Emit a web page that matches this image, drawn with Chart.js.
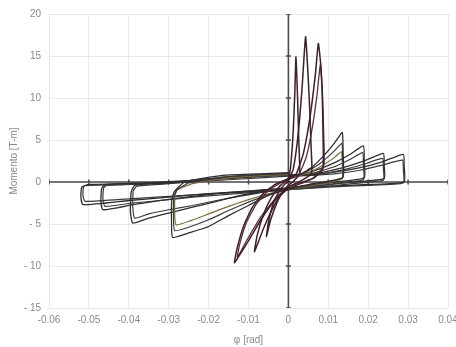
<!DOCTYPE html>
<html>
<head>
  <meta charset="UTF-8">
  <title>Momento - phi</title>
  <script src="https://cdn.jsdelivr.net/npm/chart.js"></script>
  <style>
    body {
      margin: 0;
      overflow: hidden;
      background: #fff;
    }
    #wrap {
      width: 480px;
      height: 347px;
    }
  </style>
</head>
<body>
  <div id="wrap"><canvas id="chart" width="480" height="347"></canvas></div>

  <script>
    // axis ticks
    const xTickValues = [-0.06, -0.05, -0.04, -0.03, -0.02, -0.01, 0, 0.01, 0.02, 0.03, 0.04];
    const xTickLabels = ['-0.06', '-0.05', '-0.04', '-0.03', '-0.02', '-0.01', '0', '0.01', '0.02', '0.03', '0.04'];
    const yTickValues = [-15, -10, -5, 0, 5, 10, 15, 20];
    const yTickLabels = ['- 15', '- 10', '- 5', '0', '5', '10', '15', '20'];

    // hysteresis cycles, phi [rad] and momento [T-m]
    const c1Phi = [0, 0.0006, 0.0012, 0.0016, 0.0019, 0.0023, 0.0026, 0.0028, 0.0015, 0, -0.0015, -0.003, -0.0045, -0.0055, -0.005, -0.0038, -0.0022, -0.0008, 0];
    const c1M   = [0, 2, 6, 10.5, 14.9, 10, 5, 1, 0.2, -0.4, -1.2, -2.6, -4.6, -6.5, -4.8, -2.6, -1, -0.2, 0];

    const c2Phi = [0, 0.0012, 0.0024, 0.0034, 0.0043, 0.0049, 0.0054, 0.0057, 0.0058, 0.003, 0, -0.002, -0.004, -0.0063, -0.0085, -0.0078, -0.0062, -0.0042, -0.002, 0];
    const c2M   = [0.2, 1.5, 5.5, 11, 17.3, 13, 8, 4, 1, 0.1, -0.6, -1.6, -3.2, -5.6, -8.3, -6.3, -3.8, -1.8, -0.4, 0.3];

    const c3Phi = [0, 0.002, 0.0038, 0.0055, 0.0068, 0.0075, 0.0081, 0.0085, 0.0087, 0.0086, 0.006, 0.003, 0, -0.003, -0.0065, -0.01, -0.0135, -0.0128, -0.0112, -0.009, -0.0062, -0.003, 0];
    const c3M   = [0.3, 1, 3.5, 8, 13, 16.5, 14, 10, 5, 1.5, 0.4, -0.2, -0.8, -2, -4.2, -7, -9.6, -7.8, -5.2, -3, -1.3, -0.2, 0.4];

    const c4Phi = [0, 0.0025, 0.0045, 0.006, 0.0072, 0.008, 0.0085, 0.0088, 0.0089, 0.0065, 0.003, 0, -0.003, -0.007, -0.0105, -0.0128, -0.0122, -0.0105, -0.008, -0.005, -0.002, 0];
    const c4M   = [0.3, 0.8, 3, 6.5, 10.5, 14, 11, 6.5, 2, 0.5, -0.1, -0.6, -1.8, -4.2, -7, -9, -7.4, -4.8, -2.6, -1, -0.1, 0.4];

    const c5Phi = [0, 0.003, 0.006, 0.009, 0.0115, 0.0135, 0.0137, 0.0137, 0.01, 0.005, 0, -0.005, -0.01, -0.015, -0.02, -0.0245, -0.029, -0.0293, -0.0292, -0.0285, -0.026, -0.0165, -0.006, 0];
    const c5M   = [0.6, 0.9, 1.8, 3.2, 4.6, 5.9, 3.5, 0.6, 0.1, -0.3, -0.8, -1.6, -2.8, -4.0, -5.3, -6.0, -6.6, -4.5, -2, -1.1, 0, 0.8, 1, 1.1];

    const c5bPhi = [0, 0.003, 0.006, 0.009, 0.0115, 0.0134, 0.0136, 0.0136, 0.01, 0.005, 0, -0.005, -0.01, -0.015, -0.02, -0.0245, -0.0285, -0.0288, -0.0287, -0.028, -0.025, -0.016, -0.006, 0];
    const c5bM   = [0.7, 0.9, 1.6, 2.6, 3.7, 4.6, 2.8, 0.5, 0, -0.4, -0.9, -1.5, -2.4, -3.4, -4.5, -5.3, -5.8, -4, -1.8, -1, -0.1, 0.6, 0.9, 1];

    const c5cPhi = [0, 0.003, 0.006, 0.009, 0.0115, 0.0133, 0.0135, 0.0135, 0.01, 0.005, 0, -0.005, -0.01, -0.015, -0.02, -0.0245, -0.0282, -0.0285, -0.0284, -0.0278, -0.024, -0.015, -0.006, 0];
    const c5cM   = [0.6, 0.8, 1.3, 2.1, 2.9, 3.6, 2.2, 0.4, -0.1, -0.5, -0.9, -1.4, -2.1, -2.9, -3.8, -4.6, -5.1, -3.5, -1.6, -0.9, -0.2, 0.5, 0.8, 0.9];

    const c6Phi = [0, 0.004, 0.008, 0.012, 0.0155, 0.0188, 0.019, 0.019, 0.012, 0.005, 0, -0.006, -0.012, -0.018, -0.024, -0.03, -0.035, -0.039, -0.0396, -0.0394, -0.0385, -0.03, -0.02, -0.01, 0];
    const c6M   = [0.8, 1, 1.6, 2.4, 3.3, 4.3, 2.5, 0.5, 0, -0.4, -0.7, -1.1, -1.6, -2.3, -3, -3.7, -4.3, -4.9, -3.5, -1.2, -0.4, -0.1, 0.4, 0.8, 1];

    const c6bPhi = [0, 0.004, 0.008, 0.012, 0.0155, 0.0186, 0.0188, 0.0188, 0.012, 0.005, 0, -0.006, -0.012, -0.018, -0.024, -0.03, -0.035, -0.0385, -0.039, -0.0389, -0.038, -0.03, -0.02, -0.01, 0];
    const c6bM   = [0.7, 0.8, 1.3, 1.9, 2.7, 3.5, 2, 0.3, -0.2, -0.6, -0.9, -1.2, -1.7, -2.2, -2.8, -3.3, -3.8, -4.3, -3, -1.1, -0.5, -0.2, 0.3, 0.7, 0.9];

    const c7Phi = [0, 0.005, 0.01, 0.015, 0.0195, 0.0238, 0.024, 0.024, 0.016, 0.008, 0, -0.008, -0.016, -0.024, -0.032, -0.039, -0.0465, -0.047, -0.0468, -0.046, -0.036, -0.024, -0.012, 0];
    const c7M   = [0.8, 0.9, 1.3, 1.9, 2.6, 3.4, 2, 0.4, 0, -0.4, -0.7, -1, -1.3, -1.7, -2.2, -2.7, -3.3, -2.3, -0.8, -0.3, -0.1, 0.2, 0.6, 1];

    const c7bPhi = [0, 0.005, 0.01, 0.015, 0.0195, 0.0236, 0.0238, 0.0238, 0.016, 0.008, 0, -0.008, -0.016, -0.024, -0.032, -0.039, -0.046, -0.0465, -0.0463, -0.0455, -0.036, -0.024, -0.012, 0];
    const c7bM   = [0.7, 0.8, 1.1, 1.6, 2.2, 2.8, 1.6, 0.2, -0.2, -0.6, -0.9, -1.2, -1.5, -1.8, -2.2, -2.5, -2.9, -2, -0.7, -0.4, -0.2, 0.1, 0.5, 0.8];

    const c8Phi = [0, 0.006, 0.012, 0.018, 0.0235, 0.0288, 0.029, 0.029, 0.02, 0.01, 0, -0.01, -0.02, -0.03, -0.04, -0.0515, -0.052, -0.0518, -0.05, -0.04, -0.028, -0.014, 0];
    const c8M   = [0.8, 0.9, 1.2, 1.7, 2.4, 3.3, 2, 0, -0.3, -0.5, -0.8, -1.1, -1.4, -1.8, -2.2, -2.7, -1.8, -0.6, -0.3, -0.2, 0, 0.5, 0.9];

    const c8bPhi = [0, 0.006, 0.012, 0.018, 0.0235, 0.0286, 0.0288, 0.0288, 0.02, 0.01, 0, -0.01, -0.02, -0.03, -0.04, -0.051, -0.0515, -0.0513, -0.05, -0.04, -0.028, -0.014, 0];
    const c8bM   = [0.7, 0.8, 1, 1.4, 2, 2.6, 1.5, -0.1, -0.4, -0.6, -0.9, -1.2, -1.4, -1.7, -2, -2.3, -1.5, -0.5, -0.4, -0.3, -0.1, 0.3, 0.7];

    const cycles = [
      [c1Phi, c1M, '#3e1f2b', 1.5],
      [c2Phi, c2M, '#3e1f2b', 1.5],
      [c3Phi, c3M, '#3e1f2b', 1.5],
      [c4Phi, c4M, '#5a3040', 1.3],
      [c5Phi, c5M, '#2e2e2e', 1.3],
      [c5bPhi, c5bM, '#3a3a3a', 1.2],
      [c5cPhi, c5cM, '#7a6c3c', 1.2],
      [c6Phi, c6M, '#2e2e2e', 1.3],
      [c6bPhi, c6bM, '#3a3a3a', 1.2],
      [c7Phi, c7M, '#2e2e2e', 1.3],
      [c7bPhi, c7bM, '#3a3a3a', 1.2],
      [c8Phi, c8M, '#2e2e2e', 1.3],
      [c8bPhi, c8bM, '#3a3a3a', 1.2]
    ];

    const datasets = cycles.map(([phi, m, color, width]) => ({
      data: phi.map((p, i) => ({ x: p, y: m[i] })),
      showLine: true,
      borderColor: color,
      borderWidth: width,
      pointRadius: 0,
      tension: 0.15,
      fill: false
    }));

    // zero axes with little tick marks
    datasets.push({
      data: xTickValues.map(v => ({ x: v, y: 0 })),
      showLine: true,
      borderColor: '#4a4a4a',
      borderWidth: 1.6,
      pointStyle: 'line',
      rotation: 90,
      pointRadius: 2.5,
      pointBorderColor: '#4a4a4a',
      pointBorderWidth: 1.5,
      tension: 0
    });
    datasets.push({
      data: yTickValues.map(v => ({ x: 0, y: v })),
      showLine: true,
      borderColor: '#4a4a4a',
      borderWidth: 1.6,
      pointStyle: 'line',
      pointRadius: 2.5,
      pointBorderColor: '#4a4a4a',
      pointBorderWidth: 1.5,
      tension: 0
    });

    const tickFont = { family: 'Liberation Sans, Arial, sans-serif', size: 10 };

    new Chart(document.getElementById('chart'), {
      type: 'scatter',
      data: { datasets: datasets },
      options: {
        responsive: false,
        animation: false,
        layout: { padding: { top: 13, right: 32, left: 0, bottom: 0 } },
        plugins: {
          legend: { display: false },
          tooltip: { enabled: false }
        },
        scales: {
          x: {
            min: -0.06,
            max: 0.04,
            afterBuildTicks: (scale) => { scale.ticks = xTickValues.map(v => ({ value: v })); },
            afterFit: (scale) => { scale.height = 39; },
            ticks: {
              color: '#8a8a8a',
              font: tickFont,
              padding: 6,
              maxRotation: 0,
              autoSkip: false,
              callback: (v, i) => xTickLabels[i]
            },
            grid: { color: '#e8e8e8', drawTicks: false },
            border: { display: false },
            title: {
              display: true,
              text: 'φ [rad]',
              color: '#8a8a8a',
              font: tickFont,
              padding: { top: 0, bottom: 1 }
            }
          },
          y: {
            min: -15,
            max: 20,
            afterBuildTicks: (scale) => { scale.ticks = yTickValues.map(v => ({ value: v })); },
            afterFit: (scale) => { scale.width = 49; },
            ticks: {
              color: '#8a8a8a',
              font: tickFont,
              padding: 8,
              autoSkip: false,
              callback: (v, i) => yTickLabels[i]
            },
            grid: { color: '#e8e8e8', drawTicks: false },
            border: { display: false },
            title: {
              display: true,
              text: 'Momento [T-m]',
              color: '#8a8a8a',
              font: tickFont,
              padding: { top: 8, bottom: 0 }
            }
          }
        }
      }
    });
  </script>
</body>
</html>
